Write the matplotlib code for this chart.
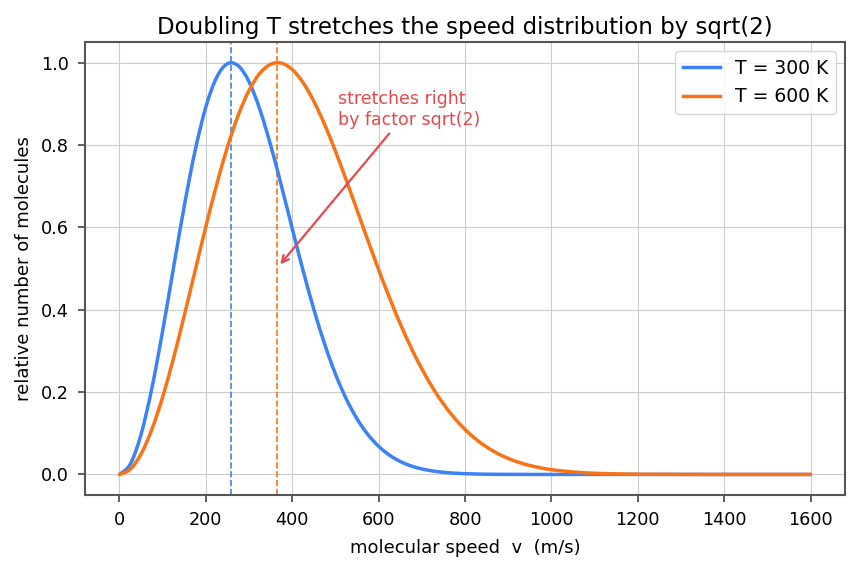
import matplotlib
matplotlib.use('Agg')
import matplotlib.pyplot as plt
from matplotlib.path import Path
from matplotlib.patches import PathPatch

# speeds (m/s) and relative number of molecules
speed = [0, 25, 50, 75, 100, 125, 150, 175, 200, 225, 250, 275, 300, 325, 350,
         375, 400, 425, 450, 475, 500, 525, 550, 575, 600, 625, 650, 675, 700,
         725, 750, 775, 800, 825, 850, 875, 900, 925, 950, 975, 1000,
         1050, 1100, 1150, 1200, 1250, 1300, 1350, 1400, 1450, 1500, 1550, 1600]

rel_300 = [0.0, 0.0251, 0.0976, 0.2096, 0.3491, 0.5016, 0.6520, 0.7861, 0.8928,
           0.9645, 0.9976, 0.9925, 0.9534, 0.8863, 0.7993, 0.7004, 0.5970,
           0.4954, 0.4009, 0.3165, 0.2438, 0.1834, 0.1349, 0.0970, 0.0682,
           0.0469, 0.0315, 0.0207, 0.0134, 0.0084, 0.0052, 0.0031, 0.0019,
           0.0011, 0.0006, 0.0003, 0.0002, 0.0001, 0.0, 0.0, 0.0,
           0.0, 0.0, 0.0, 0.0, 0.0, 0.0, 0.0, 0.0, 0.0, 0.0, 0.0, 0.0]

rel_600 = [0.0, 0.0126, 0.0498, 0.1095, 0.1883, 0.2822, 0.3860, 0.4945, 0.6022,
           0.7040, 0.7954, 0.8726, 0.9328, 0.9742, 0.9961, 0.9988, 0.9834,
           0.9517, 0.9062, 0.8496, 0.7848, 0.7147, 0.6418, 0.5687, 0.4972,
           0.4292, 0.3659, 0.3082, 0.2564, 0.2108, 0.1713, 0.1376, 0.1093,
           0.0858, 0.0667, 0.0512, 0.0389, 0.0292, 0.0217, 0.0160, 0.0116,
           0.0060, 0.0029, 0.0014, 0.0006, 0.0003, 0.0001, 0.0, 0.0, 0.0,
           0.0, 0.0, 0.0]

# most probable speeds (dashed markers)
v_peak_300 = 258
v_peak_600 = 364

blue = '#3b82f6'
orange = '#f97316'
red = '#e5484d'


def smooth_path(xs, ys):
    # cubic bezier segments passing through the read points (catmull-rom handles)
    verts = [(xs[0], ys[0])]
    codes = [Path.MOVETO]
    n = len(xs)
    for i in range(n - 1):
        x0, y0 = (xs[i - 1], ys[i - 1]) if i > 0 else (xs[i], ys[i])
        x1, y1 = xs[i], ys[i]
        x2, y2 = xs[i + 1], ys[i + 1]
        x3, y3 = (xs[i + 2], ys[i + 2]) if i + 2 < n else (x2, y2)
        verts += [(x1 + (x2 - x0) / 6, y1 + (y2 - y0) / 6),
                  (x2 - (x3 - x1) / 6, y2 - (y3 - y1) / 6),
                  (x2, y2)]
        codes += [Path.CURVE4] * 3
    return Path(verts, codes)


fig, ax = plt.subplots(figsize=(8.58, 5.69), dpi=100)
fig.subplots_adjust(left=0.099, right=0.985, top=0.926, bottom=0.130)

for ys, col, lab in [(rel_300, blue, 'T = 300 K'), (rel_600, orange, 'T = 600 K')]:
    ax.add_patch(PathPatch(smooth_path(speed, ys), facecolor='none',
                           edgecolor=col, lw=2.5, capstyle='round', zorder=3))
    ax.plot([], [], color=col, lw=2.5, label=lab)

ax.axvline(v_peak_300, color=blue, ls='--', lw=1.2)
ax.axvline(v_peak_600, color=orange, ls='--', lw=1.2)

ax.annotate('stretches right\nby factor sqrt(2)', xy=(368, 0.505), xytext=(507, 0.84),
            color=red, fontsize=12.5, ha='left', va='bottom',
            arrowprops=dict(arrowstyle='->', color=red, lw=1.6))

ax.set_xlim(-80, 1680)
ax.set_ylim(-0.05, 1.05)
ax.set_title('Doubling T stretches the speed distribution by sqrt(2)', fontsize=16.5)
ax.set_xlabel('molecular speed  v  (m/s)', fontsize=13, labelpad=7)
ax.set_ylabel('relative number of molecules', fontsize=13, labelpad=6)
ax.tick_params(labelsize=12.7, color='#444444', length=5, width=1.2, pad=6.5)
ax.grid(True, color='#cccccc', lw=0.8)
for s in ax.spines.values():
    s.set_color('#555555')
    s.set_linewidth(1.5)
ax.legend(loc='upper right', fontsize=13.5)

fig.savefig('out.png')
